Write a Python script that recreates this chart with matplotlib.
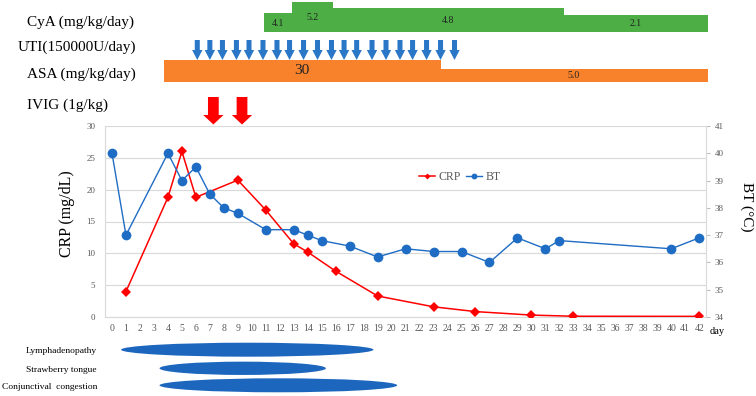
import matplotlib
matplotlib.use('Agg')
import matplotlib.pyplot as plt
from matplotlib.patches import Ellipse

plt.rcParams['font.family'] = ['Liberation Serif', 'DejaVu Serif']

# ---------------- data ----------------
crp_days = [1, 4, 5, 6, 9, 11, 13, 14, 16, 19, 23, 26, 30, 33, 42]
crp_vals = [4.0, 18.8, 26.0, 18.8, 21.5, 16.8, 11.5, 10.2, 7.2, 3.3, 1.6, 0.85, 0.3, 0.12, 0.1]

bt_days = [0, 1, 4, 5, 6, 7, 8, 9, 11, 13, 14, 15, 17, 19, 21, 23, 25, 27, 29, 31, 32, 40, 42]
bt_vals = [40.0, 37.0, 40.0, 39.0, 39.5, 38.5, 38.0, 37.8, 37.2, 37.2, 37.0, 36.8, 36.6,
           36.2, 36.5, 36.4, 36.4, 36.0, 36.9, 36.5, 36.8, 36.5, 36.9]

day_ticks = list(range(0, 43))
crp_ticks = [0, 5, 10, 15, 20, 25, 30]
bt_ticks = [34, 35, 36, 37, 38, 39, 40, 41]

cya_start = [10.9, 12.9, 15.8, 32.3]
cya_end = [12.9, 15.8, 32.3, 42.6]
cya_dose = ['4.1', '5.2', '4.8', '2.1']

asa_start = [3.7, 23.5]
asa_end = [23.5, 42.6]
asa_dose = ['30', '5.0']

uti_days = [6.1, 7.0, 7.9, 8.9, 9.8, 10.8, 11.8, 12.7, 13.7, 14.7,
            15.7, 16.6, 17.5, 18.6, 19.6, 20.6, 21.5, 22.5, 23.5, 24.5]
ivig_days = [7.25, 9.3]

symptoms = ['Lymphadenopathy', 'Strawberry tongue', 'Conjunctival  congestion']
sym_start = [0.65, 3.4, 3.4]
sym_end = [18.7, 15.3, 20.4]

# ---------------- layout (pixels) ----------------
W, H = 756, 396
X0, PPD = 112.0, 13.98          # pixel of day 0, pixels per day
AX_TOP, AX_BOT = 126, 317

RED = '#FF0000'
BLUE = '#1E6CC4'
GREEN = '#4CAE45'
ORANGE = '#F7822B'
ARROW_BLUE = '#2A77C8'
GRAY = '#595959'
GRID = '#D9D9D9'

fig = plt.figure(figsize=(W / 100, H / 100), dpi=100)

left = (X0 - 0.5 * PPD) / W
right = (X0 + 42.5 * PPD) / W
ax = fig.add_axes([left, 1 - AX_BOT / H, right - left, (AX_BOT - AX_TOP) / H])
ax.set_xlim(-0.5, 42.5)
ax.set_ylim(0, 30)
ax.set_xticks(day_ticks)
ax.set_yticks(crp_ticks)
ax.grid(axis='y', color=GRID, lw=0.8)
ax.set_axisbelow(True)
ax.tick_params(axis='x', length=0, colors=GRAY, labelsize=7, pad=5)
ax.tick_params(axis='y', length=0, colors=GRAY, labelsize=6.5, pad=7)
for s in ['top', 'right']:
    ax.spines[s].set_visible(False)
for s in ['left', 'bottom']:
    ax.spines[s].set_color(GRID)
    ax.spines[s].set_linewidth(0.8)

crp_line, = ax.plot(crp_days, crp_vals, color=RED, lw=1.1, marker='D', ms=5,
                    markeredgewidth=0, zorder=3)

ax2 = ax.twinx()
ax2.set_ylim(34, 41)
ax2.set_yticks(bt_ticks)
ax2.tick_params(axis='y', length=3, color='#BFBFBF', labelcolor=GRAY, labelsize=6.5, pad=3, width=0.8)
for s in ['top', 'left', 'bottom']:
    ax2.spines[s].set_visible(False)
ax2.spines['right'].set_color(GRID)
ax2.spines['right'].set_linewidth(0.8)
bt_line, = ax2.plot(bt_days, bt_vals, color=BLUE, lw=1.0, marker='o', ms=7,
                    markeredgewidth=0, zorder=3)

fig.legend([crp_line, bt_line], ['CRP', 'BT'], loc='center',
           bbox_to_anchor=(459.5 / W, 1 - 177 / H), ncol=2, frameon=False,
           fontsize=8.5, handlelength=1.4, handletextpad=0.25, columnspacing=0.45,
           markerscale=0.6, labelcolor=GRAY)

fig.text(67 / W, 1 - 213.5 / H, 'CRP (mg/dL)', rotation=90, ha='center', va='center', fontsize=11.5)
fig.text(747 / W, 1 - 206.5 / H, 'BT (°C)', rotation=270, ha='center', va='center', fontsize=11)
fig.text(717 / W, 1 - 331.5 / H, 'day', ha='center', va='center', fontsize=7.5)

# ---------------- overlay: treatments & symptoms ----------------
ov = fig.add_axes([0, 0, 1, 1])
ov.set_xlim(-X0 / PPD, (W - X0) / PPD)
ov.set_ylim(H, 0)
ov.axis('off')

# CyA step bars
cya_top = [13.3, 1.5, 8.0, 15.0]
cya_bot = 31.7
for s, e, d, t in zip(cya_start, cya_end, cya_dose, cya_top):
    ov.bar(s, cya_bot - t, width=e - s, bottom=t, align='edge', color=GREEN, lw=0)
    ov.text((s + e) / 2, (t + cya_bot) / 2 + 0.5, d, ha='center', va='center', fontsize=7, color='#222222')

# ASA bars
asa_top = [60.0, 69.0]
asa_bot = 82.0
asa_fs = [11, 7]
for s, e, d, t, f in zip(asa_start, asa_end, asa_dose, asa_top, asa_fs):
    ov.bar(s, asa_bot - t, width=e - s, bottom=t, align='edge', color=ORANGE, lw=0)
    ov.text((s + e) / 2, (t + asa_bot) / 2, d, ha='center', va='center', fontsize=f, color='#222222')

# UTI arrows
for d in uti_days:
    ov.arrow(d, 40, 0, 20, width=0.36, head_width=0.74, head_length=10,
             length_includes_head=True, color=ARROW_BLUE, lw=0)

# IVIG arrows
for d in ivig_days:
    ov.arrow(d, 97, 0, 27.5, width=0.77, head_width=1.45, head_length=9.5,
             length_includes_head=True, color=RED, lw=0)

# symptom ellipses
sym_y = [349.7, 368.3, 385.3]
sym_h = [14, 13.3, 14]
for s, e, y, h, name in zip(sym_start, sym_end, sym_y, sym_h, symptoms):
    ov.add_patch(Ellipse(((s + e) / 2, y), e - s, h, color='#1C66BE', lw=0))
    fig.text(97 / W, 1 - (y + 1.5) / H, name, ha='right', va='center', fontsize=6.8)

# left labels for treatments
fig.text(27 / W, 1 - 22 / H, 'CyA (mg/kg/day)', ha='left', va='center', fontsize=11)
fig.text(18 / W, 1 - 47.5 / H, 'UTI(150000U/day)', ha='left', va='center', fontsize=11)
fig.text(27 / W, 1 - 74 / H, 'ASA (mg/kg/day)', ha='left', va='center', fontsize=11)
fig.text(27 / W, 1 - 105 / H, 'IVIG (1g/kg)', ha='left', va='center', fontsize=11)

fig.savefig('out.png', dpi=100)
